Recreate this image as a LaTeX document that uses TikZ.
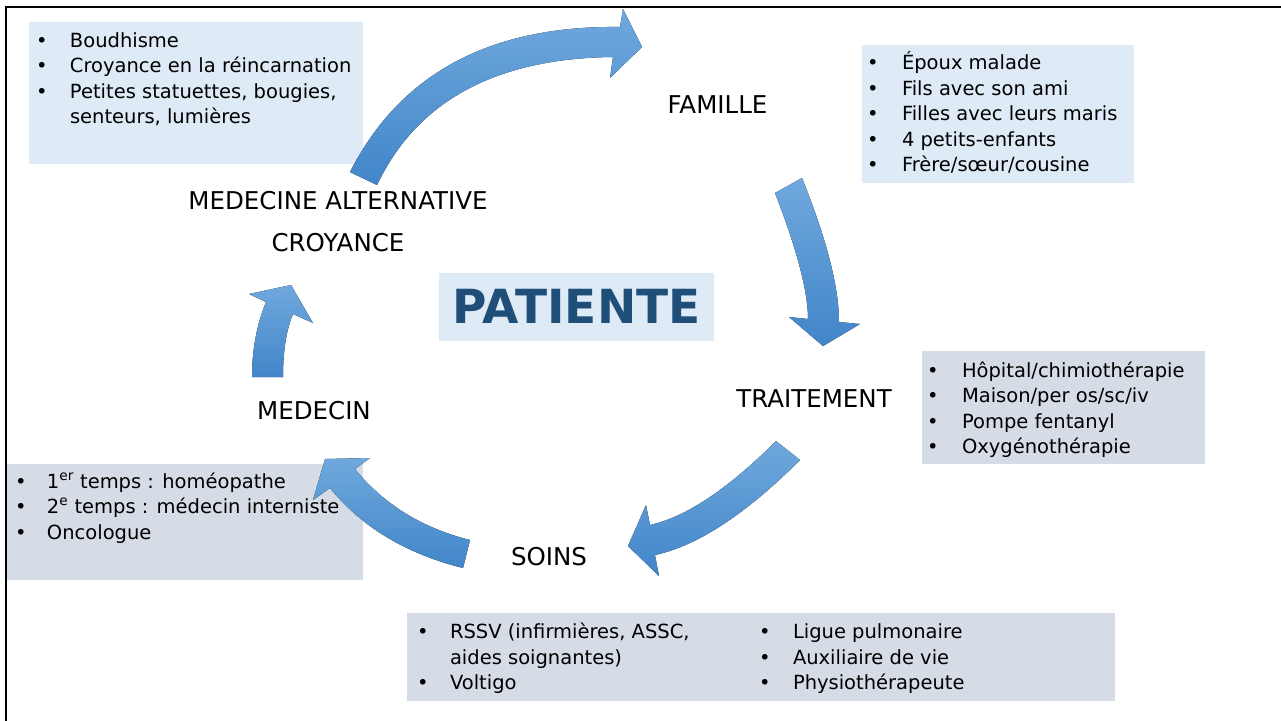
\documentclass[tikz,border=0pt]{standalone}
\usepackage{fontspec}
\setmainfont{DejaVu Sans}
\usepackage{array}
\usepackage{tikz}
\usetikzlibrary{positioning}
\definecolor{lightblue}{RGB}{222,235,247}
\definecolor{greyblue}{RGB}{214,220,229}
\definecolor{arrowtop}{RGB}{112,168,221}
\definecolor{arrowbot}{RGB}{65,134,201}
\definecolor{patblue}{RGB}{31,78,121}
\tikzset{basic/.style={inner sep=0pt,outer sep=0pt}}
\tikzset{lbox/.style={basic,fill=lightblue,anchor=north west}}
\tikzset{gbox/.style={basic,fill=greyblue,anchor=north west}}
\tikzset{stage/.style={basic,anchor=base,font=\fontsize{24.5}{29}\selectfont}}
\tikzset{liste/.style={basic,anchor=base west,font=\fontsize{19.5}{25.5}\selectfont}}
\tikzset{bigarrow/.style={top color=arrowtop,bottom color=arrowbot,draw=none}}
\newcommand{\puces}[2]{\begin{tabular}[t]{@{}p{#1pt}@{}l@{}}#2\end{tabular}}

\begin{document}
\begin{tikzpicture}[x=1pt,y=-1pt]
    \useasboundingbox (0,0) rectangle (1281,720);
    \draw[line width=2pt] (6,730) -- (6,7) -- (1290,7);

    % boxes
    \node[lbox,minimum width=334pt,minimum height=142pt] (croybox) at (29,22) {};
    \node[lbox,minimum width=272pt,minimum height=138pt] (famibox) at (862,45) {};
    \node[gbox,minimum width=283pt,minimum height=113pt] (traibox) at (922,351) {};
    \node[gbox,minimum width=356pt,minimum height=116pt] (medbox) at (7,464) {};
    \node[gbox,minimum width=708pt,minimum height=88pt] (soinbox) at (407,613) {};
    \node[lbox,minimum width=275pt,minimum height=68pt] (patbox) at (439,273) {};

    % lists
    \node[liste] (croylist) at (36,47) {\puces{34}{%
        \textbullet & Boudhisme\\
        \textbullet & Croyance en la réincarnation\\
        \textbullet & Petites statuettes, bougies,\\
                    & senteurs, lumières}};
    \node[liste] (familist) at (867,69.5) {\puces{35}{%
        \textbullet & Époux malade\\
        \textbullet & Fils avec son ami\\
        \textbullet & Filles avec leurs maris\\
        \textbullet & 4 petits-enfants\\
        \textbullet & Frère/sœur/cousine}};
    \node[liste] (trailist) at (927,377) {\puces{35}{%
        \textbullet & Hôpital/chimiothérapie\\
        \textbullet & Maison/per os/sc/iv\\
        \textbullet & Pompe fentanyl\\
        \textbullet & Oxygénothérapie}};
    \node[liste] (medlist) at (15,488) {\puces{32}{%
        \textbullet & 1\textsuperscript{er} temps : homéopathe\\
        \textbullet & 2\textsuperscript{e} temps : médecin interniste\\
        \textbullet & Oncologue}};
    \node[liste] (soinlist) at (417,638.5) {\puces{33}{%
        \textbullet & RSSV (infirmières, ASSC,\\
                    & aides soignantes)\\
        \textbullet & Voltigo}};
    \node[liste] (aidelist) at (759,638.5) {\puces{34}{%
        \textbullet & Ligue pulmonaire\\
        \textbullet & Auxiliaire de vie\\
        \textbullet & Physiothérapeute}};

    % Labels
    \node[basic,anchor=base,text=patblue,font=\fontsize{47}{50}\selectfont\bfseries] (patiente) at (576.5,323) {PATIENTE};
    \node[stage] (famille) at (717.5,113) {FAMILLE};
    \node[stage] (medalt) at (338,209) {MEDECINE ALTERNATIVE};
    \node[stage] (croyance) at (338,251) {CROYANCE};
    \node[stage] (traitement) at (814,407) {TRAITEMENT};
    \node[stage] (medecin) at (314,419) {MEDECIN};
    \node[stage] (soins) at (549,565) {SOINS};

    % cycle arrows
    \fill[bigarrow] (350,172) .. controls (400,73.7) and (490,25.3) .. (620,27) -- (623,9) -- (642,47)
        -- (610,78) -- (613,57) .. controls (495.7,58.3) and (417,101) .. (377,185) -- cycle;
    \fill[bigarrow] (802,178) .. controls (826.7,239.3) and (839,287.3) .. (839,322) -- (860,324) -- (823,346)
        -- (789,317) -- (808,319) .. controls (808,291.7) and (797,249.7) .. (775,193) -- cycle;
    \fill[bigarrow] (800,460) .. controls (746,514) and (697.7,545.7) .. (655,555) -- (659,576) -- (628,546)
        -- (646,505) -- (650,525) .. controls (686,517) and (728,489) .. (776,441) -- cycle;
    \fill[bigarrow] (463,568) .. controls (406,553.7) and (361.7,527.1) .. (330,488) -- (313,500) -- (325,459)
        -- (370,458) -- (355,469) .. controls (383.7,504.3) and (422,528) .. (470,540) -- cycle;
    \fill[bigarrow] (252,377) .. controls (252,349.7) and (256.7,324.7) .. (266,302) -- (249,294) -- (291,285)
        -- (313,323) -- (293,314) .. controls (286.3,330) and (283,351) .. (283,377) -- cycle;
\end{tikzpicture}
\end{document}
